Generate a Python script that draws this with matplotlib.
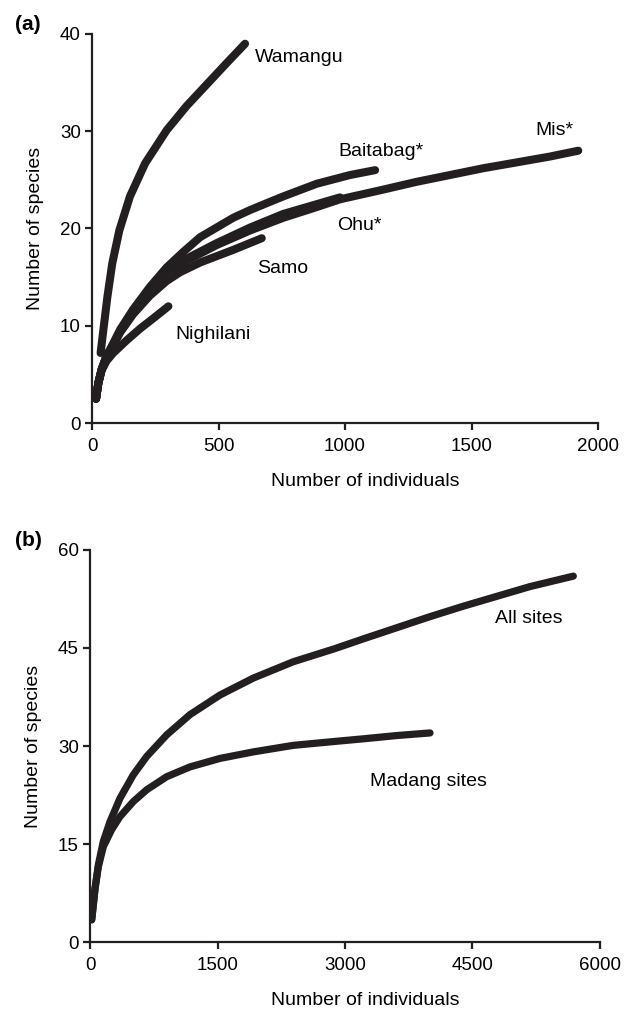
import matplotlib
matplotlib.use("Agg")
import matplotlib.pyplot as plt

plt.rcParams['font.family'] = ['Liberation Sans', 'DejaVu Sans']

# panel (a): rarefaction curves per site
wamangu_x = [34, 45, 61, 80, 108, 150, 210, 295, 374, 453, 532, 605]
wamangu_y = [7.2, 9.6, 13.0, 16.4, 19.8, 23.3, 26.7, 30.1, 32.6, 34.8, 37.0, 39.0]
baitabag_x = [16, 25, 38, 58, 84, 111, 163, 229, 295, 361, 427, 558, 625, 690, 756, 888, 1020, 1119]
baitabag_y = [2.5, 4.1, 5.5, 6.9, 8.2, 9.6, 11.7, 14.0, 16.0, 17.6, 19.1, 21.1, 21.9, 22.6, 23.3, 24.6, 25.5, 26.0]
ohu_x = [16, 25, 38, 58, 84, 111, 163, 229, 295, 374, 493, 625, 756, 888, 980]
ohu_y = [2.5, 4.1, 5.5, 6.9, 8.0, 9.4, 11.4, 13.3, 15.0, 16.9, 18.5, 20.1, 21.5, 22.5, 23.2]
mis_x = [16, 25, 38, 58, 84, 111, 163, 229, 295, 374, 493, 625, 756, 888, 980,
         1151, 1283, 1415, 1547, 1679, 1810, 1922]
mis_y = [2.5, 4.1, 5.5, 6.9, 8.0, 9.4, 11.4, 13.3, 14.9, 16.7, 18.3, 19.8, 21.1, 22.2, 23.0,
         24.0, 24.8, 25.5, 26.2, 26.8, 27.4, 28.0]
samo_x = [16, 25, 38, 58, 84, 111, 163, 229, 295, 348, 427, 558, 671]
samo_y = [2.5, 4.1, 5.5, 6.9, 8.0, 9.3, 11.2, 13.1, 14.6, 15.5, 16.5, 17.8, 19.0]
nighilani_x = [16, 25, 38, 58, 84, 137, 190, 249, 302]
nighilani_y = [2.5, 4.1, 5.4, 6.4, 7.2, 8.5, 9.7, 10.9, 12.0]

# panel (b): pooled curves
all_x = [20, 59, 98, 157, 235, 353, 510, 667, 902, 1176, 1529, 1922, 2392, 2880,
         3216, 3608, 4000, 4392, 4784, 5176, 5686]
all_y = [3.4, 8.2, 11.8, 15.4, 18.4, 22.0, 25.6, 28.4, 31.7, 34.8, 37.8, 40.4, 42.9, 44.9,
         46.4, 48.1, 49.8, 51.4, 52.9, 54.4, 56.0]
madang_x = [20, 59, 98, 157, 255, 353, 510, 667, 902, 1176, 1529, 1922, 2392, 2880,
            3216, 3608, 4000]
madang_y = [3.4, 8.1, 11.5, 14.6, 17.2, 19.2, 21.5, 23.3, 25.3, 26.8, 28.1, 29.1, 30.1, 30.7,
            31.1, 31.6, 32.0]

ink = '#231f20'
fs = 14

fig = plt.figure(figsize=(6.30, 10.13), dpi=100)
ax1 = fig.add_axes([92/630, 1-423/1013, 506/630, 389/1013])
ax2 = fig.add_axes([90/630, 1-942/1013, 510/630, 392/1013])

for xs, ys in [(wamangu_x, wamangu_y), (baitabag_x, baitabag_y), (mis_x, mis_y),
               (ohu_x, ohu_y), (samo_x, samo_y), (nighilani_x, nighilani_y)]:
    ax1.plot(xs, ys, color=ink, lw=5.8, solid_capstyle='round', solid_joinstyle='round')

ax1.text(644, 37.6, 'Wamangu', fontsize=fs, va='center')
ax1.text(972, 27.9, 'Baitabag*', fontsize=fs, va='center')
ax1.text(1751, 30.1, 'Mis*', fontsize=fs, va='center')
ax1.text(968, 20.3, 'Ohu*', fontsize=fs, va='center')
ax1.text(651, 15.9, 'Samo', fontsize=fs, va='center')
ax1.text(328, 9.1, 'Nighilani', fontsize=fs, va='center')

ax1.set_xlim(0, 2000)
ax1.set_ylim(0, 40)
ax1.set_xticks([0, 500, 1000, 1500, 2000])
ax1.set_yticks([0, 10, 20, 30, 40])

for xs, ys in [(all_x, all_y), (madang_x, madang_y)]:
    ax2.plot(xs, ys, color=ink, lw=5.2, solid_capstyle='round', solid_joinstyle='round')

ax2.text(4765, 49.5, 'All sites', fontsize=fs, va='center')
ax2.text(3294, 24.5, 'Madang sites', fontsize=fs, va='center')

ax2.set_xlim(0, 6000)
ax2.set_ylim(0, 60)
ax2.set_xticks([0, 1500, 3000, 4500, 6000])
ax2.set_yticks([0, 15, 30, 45, 60])

for ax, h in ((ax1, 389), (ax2, 392)):
    for s in ('top', 'right'):
        ax.spines[s].set_visible(False)
    for s in ('left', 'bottom'):
        ax.spines[s].set_linewidth(1.6)
        ax.spines[s].set_color(ink)
    ax.tick_params(direction='out', length=5, width=1.6, color=ink, labelsize=13.5)
    ax.tick_params(axis='x', pad=6)
    ax.tick_params(axis='y', pad=3)
    ax.set_xlabel('Number of individuals', fontsize=fs)
    ax.set_ylabel('Number of species', fontsize=fs)
    ax.xaxis.set_label_coords(0.54, -50/h)
    ax.yaxis.set_label_coords(-0.095, 0.5)

fig.text(15/630, 1-25/1013, '(a)', fontsize=15, fontweight='bold', va='center')
fig.text(15/630, 1-540/1013, '(b)', fontsize=15, fontweight='bold', va='center')

fig.savefig('out.png', dpi=100)
